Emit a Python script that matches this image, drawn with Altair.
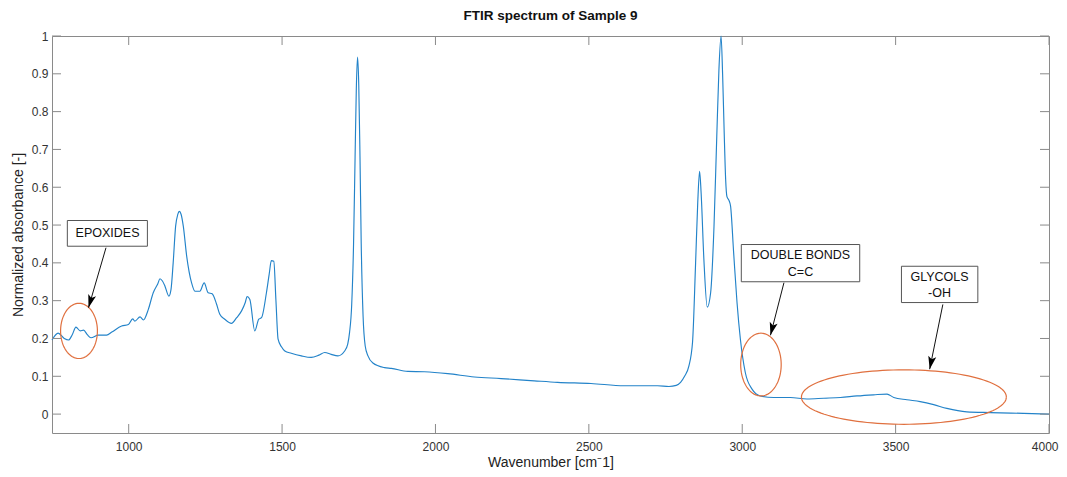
import altair as alt
import numpy as np
import pandas as pd

# ---------------- data ----------------
wavenumber = [750, 770, 790, 804, 816, 828, 842, 853, 865, 877, 901, 928, 945, 977, 999,
              1013, 1020, 1037, 1048, 1064, 1080, 1095, 1102, 1110, 1118, 1131, 1138, 1145,
              1153, 1160, 1165, 1171, 1178, 1189, 1205, 1216, 1232, 1246, 1259, 1272, 1286,
              1297, 1313, 1335, 1352, 1368, 1380, 1386, 1395, 1411, 1424, 1433, 1449, 1458,
              1465, 1473, 1480, 1487, 1498, 1509, 1530, 1563, 1595, 1620, 1639, 1660, 1682,
              1704, 1714, 1720, 1727, 1733, 1738, 1742, 1746, 1750, 1754, 1758, 1764, 1771,
              1780, 1796, 1834, 1856, 1910, 1964, 2040, 2127, 2214, 2322, 2398, 2507, 2615,
              2724, 2761, 2785, 2799, 2812, 2826, 2838, 2848, 2855, 2861, 2866, 2875, 2886,
              2897, 2908, 2917, 2924, 2931, 2936, 2941, 2946, 2950, 2957, 2962, 2972, 2983,
              2994, 3010, 3032, 3059, 3103, 3157, 3211, 3266, 3320, 3374, 3428, 3472, 3494,
              3537, 3580, 3624, 3667, 3732, 3808, 3916, 4000]
absorbance = [0.196, 0.214, 0.200, 0.196, 0.210, 0.230, 0.220, 0.222, 0.210, 0.202, 0.209,
              0.209, 0.217, 0.233, 0.237, 0.252, 0.246, 0.257, 0.249, 0.277, 0.321, 0.345,
              0.358, 0.352, 0.339, 0.312, 0.330, 0.400, 0.497, 0.528, 0.536, 0.528, 0.497,
              0.418, 0.347, 0.325, 0.325, 0.347, 0.321, 0.318, 0.292, 0.264, 0.251, 0.240,
              0.255, 0.273, 0.295, 0.311, 0.303, 0.220, 0.251, 0.255, 0.321, 0.370, 0.406,
              0.404, 0.300, 0.198, 0.178, 0.167, 0.161, 0.154, 0.150, 0.156, 0.163, 0.158,
              0.154, 0.167, 0.185, 0.216, 0.290, 0.450, 0.680, 0.860, 0.944, 0.870, 0.680,
              0.450, 0.260, 0.180, 0.154, 0.135, 0.123, 0.121, 0.113, 0.112, 0.107, 0.098,
              0.094, 0.088, 0.084, 0.081, 0.075, 0.075, 0.073, 0.076, 0.084, 0.100, 0.127,
              0.190, 0.400, 0.560, 0.642, 0.585, 0.409, 0.283, 0.321, 0.497, 0.734, 0.910,
              1.000, 0.900, 0.750, 0.620, 0.576, 0.565, 0.550, 0.427, 0.295, 0.198, 0.110,
              0.066, 0.048, 0.044, 0.044, 0.040, 0.042, 0.044, 0.048, 0.051, 0.053, 0.044,
              0.038, 0.033, 0.025, 0.015, 0.006, 0.004, 0.002, 0.000]

x_ticks = [1000, 1500, 2000, 2500, 3000, 3500, 4000]
y_ticks = [0, 0.1, 0.2, 0.3, 0.4, 0.5, 0.6, 0.7, 0.8, 0.9, 1.0]

# annotation ellipses (data units)
ellipse_cx = [838, 3061, 3527]
ellipse_cy = [0.220, 0.131, 0.045]
ellipse_rx = [60, 66, 334]
ellipse_ry = [0.073, 0.083, 0.072]

# annotation text boxes (data units)
box_x1 = [800, 2997, 3519]
box_x2 = [1061, 3383, 3768]
box_y1 = [0.444, 0.350, 0.295]
box_y2 = [0.512, 0.4485, 0.391]

label_text = ["EPOXIDES", "DOUBLE BONDS", "C=C", "GLYCOLS", "-OH"]
label_x = [931, 3190, 3190, 3643, 3643]
label_y = [0.478, 0.4195, 0.3755, 0.362, 0.321]

# arrows: start (x1, y1) -> tip (x2, y2)
arrow_x1 = [926, 3136, 3654]
arrow_y1 = [0.440, 0.3475, 0.290]
arrow_x2 = [869, 3092, 3611]
arrow_y2 = [0.2815, 0.2084, 0.1187]

# ---------------- layout ----------------
X_DOMAIN = [750, 4000]
Y_DOMAIN = [-0.05, 1.0]
W, H = 997, 397
FONT = "Liberation Sans"
LINE_BLUE = "#2383c9"
ORANGE = "#E0703F"
FRAME = "#8a8a8a"
X_TITLE = "Wavenumber [cm⁻1]"
Y_TITLE = "Normalized absorbance [-]"

xs = alt.Scale(domain=X_DOMAIN, nice=False, zero=False)
ys = alt.Scale(domain=Y_DOMAIN, nice=False, zero=False)
x_axis = alt.Axis(values=x_ticks, format="d", ticks=False, domain=False, grid=False,
                  labelPadding=8, titlePadding=3, labelFlush=True, labelFlushOffset=9)
y_axis = alt.Axis(values=y_ticks, format=".1~f", ticks=False, domain=False, grid=False,
                  labelPadding=4, titlePadding=6, labelFlush=False)


def X(field="x:Q"):
    return alt.X(field, scale=xs, axis=x_axis, title=X_TITLE)


def Y(field="y:Q"):
    return alt.Y(field, scale=ys, axis=y_axis, title=Y_TITLE)


spec_df = pd.DataFrame({"x": wavenumber, "y": absorbance})

spectrum = alt.Chart(spec_df).mark_line(
    color=LINE_BLUE, strokeWidth=1.15, interpolate="monotone"
).encode(x=X(), y=Y())

# inward ticks on all four sides
xt_df = pd.DataFrame({"x": x_ticks})
yt_df = pd.DataFrame({"y": y_ticks})
tick_style = dict(color=FRAME, strokeWidth=1)
ticks_bottom = alt.Chart(xt_df).mark_rule(**tick_style).encode(
    x=X(), y=alt.value(H), y2=alt.value(H - 9))
ticks_top = alt.Chart(xt_df).mark_rule(**tick_style).encode(
    x=X(), y=alt.value(0), y2=alt.value(9))
ticks_left = alt.Chart(yt_df).mark_rule(**tick_style).encode(
    y=Y(), x=alt.value(0), x2=alt.value(9))
ticks_right = alt.Chart(yt_df).mark_rule(**tick_style).encode(
    y=Y(), x=alt.value(W), x2=alt.value(W - 9))

# ellipses
rows = []
t = np.linspace(0, 2 * np.pi, 121)
for i, (cx, cy, rx, ry) in enumerate(zip(ellipse_cx, ellipse_cy, ellipse_rx, ellipse_ry)):
    for k, tt in enumerate(t):
        rows.append({"id": i, "k": k, "x": cx + rx * np.cos(tt), "y": cy + ry * np.sin(tt)})
ell_df = pd.DataFrame(rows)
ellipses = alt.Chart(ell_df).mark_line(color=ORANGE, strokeWidth=1.2).encode(
    x=X(), y=Y(), detail="id:N", order="k:Q",
)

# arrows
sx = W / (X_DOMAIN[1] - X_DOMAIN[0])
sy = H / (Y_DOMAIN[1] - Y_DOMAIN[0])
head_rows = []
for x1, y1, x2, y2 in zip(arrow_x1, arrow_y1, arrow_x2, arrow_y2):
    dx = (x2 - x1) * sx
    dy = -(y2 - y1) * sy
    L = np.hypot(dx, dy)
    ux, uy = dx / L, dy / L
    ang = np.degrees(np.arctan2(dx, -dy)) % 360
    r = 6.5
    head_rows.append({"x": x2 - r * ux / sx, "y": y2 + r * uy / sy, "angle": ang})
arrow_df = pd.DataFrame({"x": arrow_x1, "y": arrow_y1, "x2": arrow_x2, "y2": arrow_y2})
head_df = pd.DataFrame(head_rows)

arrow_lines = alt.Chart(arrow_df).mark_rule(color="#111111", strokeWidth=1).encode(
    x=X(), x2="x2:Q", y=Y(), y2="y2:Q",
)
arrow_heads = alt.Chart(head_df).mark_point(
    shape="M0,-1L0.62,1L0,0.55L-0.62,1Z", filled=True, color="#000000", opacity=1, size=169
).encode(
    x=X(), y=Y(), angle=alt.Angle("angle:Q", scale=None),
)

# text boxes
box_df = pd.DataFrame({"x": box_x1, "x2": box_x2, "y": box_y1, "y2": box_y2})
boxes = alt.Chart(box_df).mark_rect(fill="white", stroke="#555555", strokeWidth=1).encode(
    x=X(), x2="x2:Q", y=Y(), y2="y2:Q",
)
lab_df = pd.DataFrame({"x": label_x, "y": label_y, "t": label_text})
labels = alt.Chart(lab_df).mark_text(
    font=FONT, fontSize=12.5, color="#111111", align="center", baseline="middle"
).encode(
    x=X(), y=Y(), text="t:N",
)

chart = alt.layer(
    spectrum, ticks_bottom, ticks_top, ticks_left, ticks_right,
    ellipses, arrow_lines, arrow_heads, boxes, labels
).properties(
    width=W, height=H,
    title=alt.TitleParams("FTIR spectrum of Sample 9", font=FONT, fontSize=13.5,
                          fontWeight="bold", color="#111111", anchor="middle", offset=8),
    autosize=alt.AutoSizeParams(type="none"),
    padding={"left": 44, "top": 28, "right": 10, "bottom": 38},
).configure_view(
    stroke=FRAME, strokeWidth=1
).configure_axis(
    labelFont=FONT, titleFont=FONT, labelFontSize=12, titleFontSize=14,
    labelColor="#333333", titleColor="#222222", titleFontWeight="normal",
)

chart.save("out.html", embed_options={"renderer": "svg", "actions": False})
